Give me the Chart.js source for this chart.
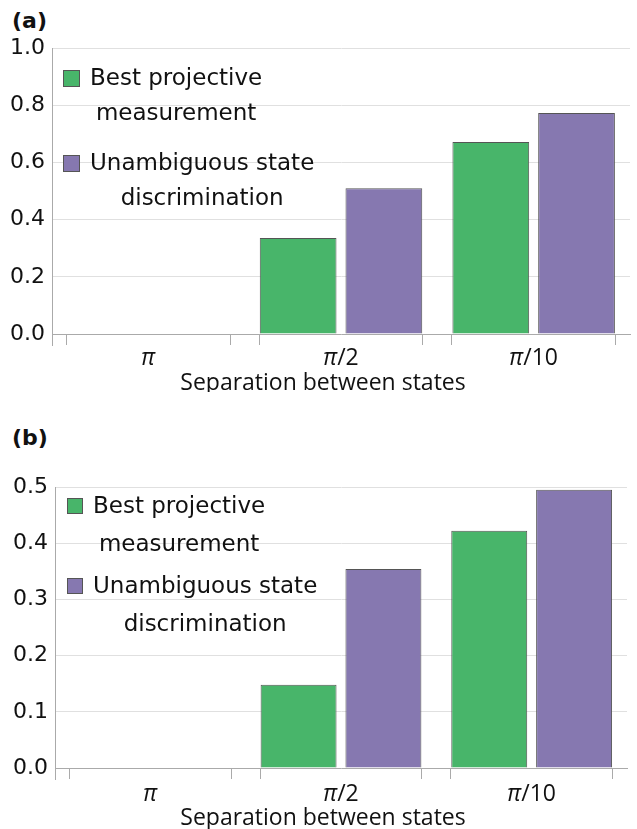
<!DOCTYPE html>
<html>
<head>
<meta charset="utf-8">
<script src="https://cdn.jsdelivr.net/npm/chart.js@4.4.0/dist/chart.umd.min.js"></script>
<style>
  body { margin: 0; background: #fff; width: 637px; height: 829px; position: relative; overflow: hidden; }
  .panel { position: absolute; left: 0; width: 637px; }
  .tag { position: absolute; left: 12px; font: bold 22px "DejaVu Sans", sans-serif; color: #111; }
</style>
</head>
<body>
<div class="tag" style="top:8px">(a)</div>
<div class="panel" style="top:0; height:392px"><canvas id="chartA"></canvas></div>
<div class="tag" style="top:425px">(b)</div>
<div class="panel" style="top:430px; height:399px"><canvas id="chartB"></canvas></div>
<script>
// categories and series
var categories = ['\u03C0', '\u03C0/2', '\u03C0/10'];
var seriesLines = [['Best projective', 'measurement'], ['Unambiguous state', 'discrimination']];
var seriesColors = ['#48b56a', '#8678b0'];
var xTitle = 'Separation between states';

// panel (a)
var projectiveA = [0, 0.336, 0.671];
var unambiguousA = [0, 0.510, 0.773];
var yTicksA = [0.0, 0.2, 0.4, 0.6, 0.8, 1.0];

// panel (b)
var projectiveB = [0, 0.148, 0.422];
var unambiguousB = [0, 0.354, 0.495];
var yTicksB = [0.0, 0.1, 0.2, 0.3, 0.4, 0.5];

var TEXT = '#111';
var AXIS = '#aaa';

// x axis: ticks at the bar group edges, labels with an italic pi, title
var xAxisDecor = {
    id: 'xAxisDecor',
    afterDraw: function (chart, args, o) {
        var ctx = chart.ctx;
        var area = chart.chartArea;
        var bottom = area.bottom;
        var first = chart.getDatasetMeta(0).data;
        var last = chart.getDatasetMeta(chart.data.datasets.length - 1).data;
        ctx.save();
        ctx.strokeStyle = AXIS;
        ctx.lineWidth = 1;
        // y axis line runs a bit below the baseline
        ctx.beginPath();
        ctx.moveTo(Math.round(area.left) + 0.5, bottom);
        ctx.lineTo(Math.round(area.left) + 0.5, bottom + 12);
        ctx.stroke();
        categories.forEach(function (c, i) {
            var l = first[i].x - first[i].width / 2 - 1;
            var r = last[i].x + last[i].width / 2;
            [l, r].forEach(function (px) {
                ctx.beginPath();
                ctx.moveTo(Math.round(px) + 0.5, bottom);
                ctx.lineTo(Math.round(px) + 0.5, bottom + 11);
                ctx.stroke();
            });
            // label: pi in italic, the rest upright
            var cx = chart.scales.x.getPixelForValue(i);
            var head = c.charAt(0), tail = c.slice(1);
            var fi = 'italic 23px "Open Sans", sans-serif';
            var fn = '23px "Open Sans", sans-serif';
            ctx.font = fi;
            var wh = ctx.measureText(head).width;
            ctx.font = fn;
            var wt = ctx.measureText(tail).width;
            var x0 = cx - (wh + wt) / 2;
            ctx.fillStyle = TEXT;
            ctx.textBaseline = 'middle';
            ctx.textAlign = 'left';
            ctx.font = fi;
            ctx.fillText(head, x0, bottom + o.labelOffset);
            ctx.font = fn;
            ctx.fillText(tail, x0 + wh, bottom + o.labelOffset);
        });
        ctx.font = '23px "Open Sans", sans-serif';
        ctx.textAlign = 'center';
        ctx.fillText(xTitle, o.titleX, bottom + o.titleOffset);
        ctx.restore();
    }
};

// legend drawn inside the plot, two lines per entry
var boxLegend = {
    id: 'boxLegend',
    afterDraw: function (chart, args, o) {
        var ctx = chart.ctx;
        var area = chart.chartArea;
        ctx.save();
        ctx.font = '23px "DejaVu Sans", sans-serif';
        ctx.textBaseline = 'middle';
        chart.data.datasets.forEach(function (ds, i) {
            var top = area.top + o.firstBox + i * o.itemStep;
            var left = area.left + o.boxLeft;
            ctx.fillStyle = ds.backgroundColor;
            ctx.fillRect(left, top, o.box, o.box);
            ctx.strokeStyle = '#555';
            ctx.lineWidth = 1;
            ctx.strokeRect(left + 0.5, top + 0.5, o.box - 1, o.box - 1);
            var lines = seriesLines[i];
            var tx = left + o.box + 10;
            var w0 = ctx.measureText(lines[0]).width;
            var ty = top + o.box / 2 + 1;
            ctx.fillStyle = TEXT;
            ctx.textAlign = 'left';
            ctx.fillText(lines[0], tx, ty);
            ctx.textAlign = 'center';
            ctx.fillText(lines[1], tx + w0 / 2, ty + o.lineStep);
        });
        ctx.restore();
    }
};

function makeChart(id, first, second, yTicks, pad, axisWidth, axisHeight, legendOpts, xOpts) {
    var ctx = document.getElementById(id).getContext('2d');
    var yMax = yTicks[yTicks.length - 1];
    return new Chart(ctx, {
        type: 'bar',
        data: {
            labels: categories,
            datasets: [
                { label: seriesLines[0].join(' '), data: first, backgroundColor: seriesColors[0] },
                { label: seriesLines[1].join(' '), data: second, backgroundColor: seriesColors[1] }
            ]
        },
        options: {
            responsive: true,
            maintainAspectRatio: false,
            animation: false,
            layout: { padding: pad },
            datasets: {
                bar: {
                    categoryPercentage: 0.89,
                    barPercentage: 0.895,
                    borderColor: '#555',
                    borderWidth: 1,
                    borderSkipped: 'start'
                }
            },
            scales: {
                x: {
                    grid: { display: false, drawTicks: false },
                    border: { display: true, color: AXIS },
                    ticks: { display: false },
                    afterFit: function (s) { s.height = axisHeight; }
                },
                y: {
                    min: 0,
                    max: yMax,
                    afterBuildTicks: function (s) {
                        s.ticks = yTicks.map(function (v) { return { value: v }; });
                    },
                    grid: { color: '#e0e0e0', drawTicks: false },
                    border: { display: true, color: AXIS },
                    ticks: {
                        padding: 7,
                        color: TEXT,
                        font: { family: '"DejaVu Sans", sans-serif', size: 22 },
                        callback: function (v) { return Number(v).toFixed(1); }
                    },
                    afterFit: function (s) { s.width = axisWidth; }
                }
            },
            plugins: {
                legend: { display: false },
                tooltip: { enabled: false },
                boxLegend: legendOpts,
                xAxisDecor: xOpts
            }
        },
        plugins: [xAxisDecor, boxLegend]
    });
}

makeChart('chartA', projectiveA, unambiguousA, yTicksA,
    { top: 48, right: 7, bottom: 0, left: 0 }, 52, 58,
    { boxLeft: 11, firstBox: 22, box: 17, lineStep: 35, itemStep: 85 },
    { labelOffset: 24, titleOffset: 49, titleX: 323 });

makeChart('chartB', projectiveB, unambiguousB, yTicksB,
    { top: 57, right: 10, bottom: 0, left: 0 }, 55, 61,
    { boxLeft: 12, firstBox: 11, box: 16, lineStep: 38, itemStep: 80 },
    { labelOffset: 26, titleOffset: 50, titleX: 323 });
</script>
</body>
</html>
